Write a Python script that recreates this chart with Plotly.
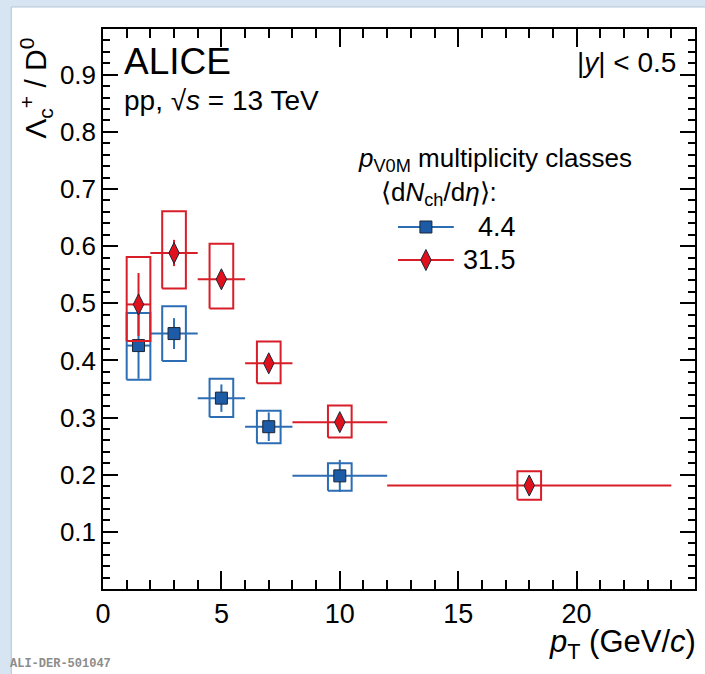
import plotly.graph_objects as go

# ---------------- data ----------------
blue_pt = [1.5, 3.0, 5.0, 7.0, 10.0]
blue_lo = [1.0, 2.0, 4.0, 6.0, 8.0]
blue_hi = [2.0, 4.0, 6.0, 8.0, 12.0]
blue_y = [0.426, 0.447, 0.334, 0.284, 0.198]
blue_stat = [0.058, 0.027, 0.024, 0.025, 0.028]
blue_sys_up = [0.057, 0.048, 0.034, 0.028, 0.022]
blue_sys_dn = [0.060, 0.048, 0.033, 0.029, 0.026]

red_pt = [1.5, 3.0, 5.0, 7.0, 10.0, 18.0]
red_lo = [1.0, 2.0, 4.0, 6.0, 8.0, 12.0]
red_hi = [2.0, 4.0, 6.0, 8.0, 12.0, 24.0]
red_y = [0.498, 0.588, 0.542, 0.395, 0.292, 0.181]
red_stat = [0.055, 0.023, 0.014, 0.013, 0.011, 0.010]
red_sys_up = [0.083, 0.073, 0.062, 0.038, 0.029, 0.025]
red_sys_dn = [0.064, 0.062, 0.051, 0.035, 0.027, 0.025]

legend_labels = ["4.4", "31.5"]
y_tickvals = [0.1, 0.2, 0.3, 0.4, 0.5, 0.6, 0.7, 0.8, 0.9]

# ---------------- style ----------------
FONT = "Liberation Sans, Arial, sans-serif"
BLUE_LINE = "#2c6db4"
BLUE_FILL = "#1d5ba6"
RED_LINE = "#d81e28"
RED_FILL = "#e0101c"
EDGE = "#1b2536"
BOX_HALF = 0.5

W, H = 705, 674
L, R, T, B = 103, 697, 29, 589  # plot area in pixels


def px(xp):
    return (xp - L) / (R - L)


def py(yp):
    return (B - yp) / (B - T)


fig = go.Figure()


def add_series(pt, lo, hi, y, stat, sup, sdn, line_col, fill_col, symbol, size):
    bx, by = [], []
    for p, v, u, d in zip(pt, y, sup, sdn):
        bx += [p - BOX_HALF, p + BOX_HALF, p + BOX_HALF, p - BOX_HALF, p - BOX_HALF, None]
        by += [v - d, v - d, v + u, v + u, v - d, None]
    fig.add_trace(go.Scatter(x=bx, y=by, mode="lines",
                             line=dict(color=line_col, width=2),
                             hoverinfo="skip", showlegend=False))
    fig.add_trace(go.Scatter(
        x=pt, y=y, mode="markers",
        marker=dict(symbol=symbol, size=size, color=fill_col,
                    line=dict(color=EDGE, width=1)),
        error_x=dict(type="data", symmetric=False,
                     array=[h - p for h, p in zip(hi, pt)],
                     arrayminus=[p - l for l, p in zip(lo, pt)],
                     color=line_col, thickness=2, width=0),
        error_y=dict(type="data", array=stat, color=line_col, thickness=2, width=0),
        showlegend=False))


add_series(blue_pt, blue_lo, blue_hi, blue_y, blue_stat, blue_sys_up, blue_sys_dn,
           BLUE_LINE, BLUE_FILL, "square", 12)
add_series(red_pt, red_lo, red_hi, red_y, red_stat, red_sys_up, red_sys_dn,
           RED_LINE, RED_FILL, "diamond-tall", 15)

# ---------------- legend glyphs (overlay axes in plot-fraction units) ----------------
leg_x0, leg_x1, leg_xm = px(399), px(455), px(427)
leg_rows = [py(227), py(260)]
for row, lc, fc, sym, sz in [(leg_rows[0], BLUE_LINE, BLUE_FILL, "square", 12),
                             (leg_rows[1], RED_LINE, RED_FILL, "diamond-tall", 15)]:
    fig.add_trace(go.Scatter(x=[leg_x0, leg_x1], y=[row, row], mode="lines",
                             line=dict(color=lc, width=2), xaxis="x2", yaxis="y2",
                             hoverinfo="skip", showlegend=False))
    fig.add_trace(go.Scatter(x=[leg_xm], y=[row], mode="markers",
                             marker=dict(symbol=sym, size=sz, color=fc,
                                         line=dict(color=EDGE, width=1)),
                             xaxis="x2", yaxis="y2", hoverinfo="skip", showlegend=False))

axis_common = dict(
    showgrid=False, zeroline=False, showline=True, linecolor="black", linewidth=1.5,
    mirror="ticks", ticks="inside", tickcolor="black", tickwidth=1.5,
)

fig.update_layout(
    width=W, height=H,
    margin=dict(l=L, r=W - R, t=T, b=H - B, pad=0),
    paper_bgcolor="#d7e5f2",
    plot_bgcolor="white",
    font=dict(family=FONT, color="black"),
    xaxis=dict(range=[0, 25], dtick=5, tick0=0, ticklen=18,
               tickfont=dict(family=FONT, size=27, color="black"),
               minor=dict(dtick=1, ticklen=9, ticks="inside", tickcolor="black", tickwidth=1.5),
               **axis_common),
    yaxis=dict(range=[0, 0.98], tickvals=y_tickvals, tickformat=".1f", ticklen=15,
               tickfont=dict(family=FONT, size=26, color="black"),
               minor=dict(dtick=0.02, tick0=0, ticklen=7, ticks="inside", tickcolor="black",
                          tickwidth=1.5),
               **axis_common),
    xaxis2=dict(range=[0, 1], overlaying="x", visible=False, anchor="y2"),
    yaxis2=dict(range=[0, 1], overlaying="y", visible=False, anchor="x2"),
    shapes=[
        dict(type="rect", xref="paper", yref="paper", layer="below",
             x0=(11 - L) / (R - L), x1=(W + 5 - L) / (R - L),
             y0=(B - H - 5) / (B - T), y1=(B - 7) / (B - T),
             fillcolor="white", line=dict(color="#b3c4d6", width=1)),
    ],
)

ann = []
ann.append(dict(text="ALICE", x=px(122), y=py(61), xanchor="left", yanchor="middle",
                font=dict(size=37)))
ann.append(dict(text="pp, √<i>s</i> = 13 TeV", x=px(122), y=py(100), xanchor="left",
                yanchor="middle", font=dict(size=28)))
ann.append(dict(text="|<i>y</i>| < 0.5", x=px(680), y=py(62), xanchor="right",
                yanchor="middle", font=dict(size=28)))
ann.append(dict(text="<i>p</i><sub>V0M</sub> multiplicity classes", x=px(357), y=py(160),
                xanchor="left", yanchor="middle", font=dict(size=26)))
ann.append(dict(text="⟨d<i>N</i><sub>ch</sub>/d<i>η</i>⟩:", x=px(380), y=py(194),
                xanchor="left", yanchor="middle", font=dict(size=26)))
for lab, row in zip(legend_labels, leg_rows):
    ann.append(dict(text=lab, x=px(519), y=row, xanchor="right", yanchor="middle",
                    font=dict(size=27)))
ann.append(dict(text="Λ<sub>c</sub><sup>+</sup> / D<sup>0</sup>", x=px(36), y=py(36),
                xanchor="center", yanchor="top", textangle=-90, font=dict(size=30)))
ann.append(dict(text="<i>p</i><sub>T</sub> (GeV/<i>c</i>)", x=px(700), y=py(644),
                xanchor="right", yanchor="middle", font=dict(size=31)))
ann.append(dict(text="<b>ALI-DER-501047</b>", x=px(8), y=py(664), xanchor="left",
                yanchor="middle",
                font=dict(size=12, family="Liberation Mono, Courier New, monospace",
                          color="#8c8c8c")))
for a in ann:
    a.update(xref="paper", yref="paper", showarrow=False)
    a["font"].setdefault("family", FONT)
    a["font"].setdefault("color", "black")
fig.update_layout(annotations=ann)

fig.write_html("out.html")
